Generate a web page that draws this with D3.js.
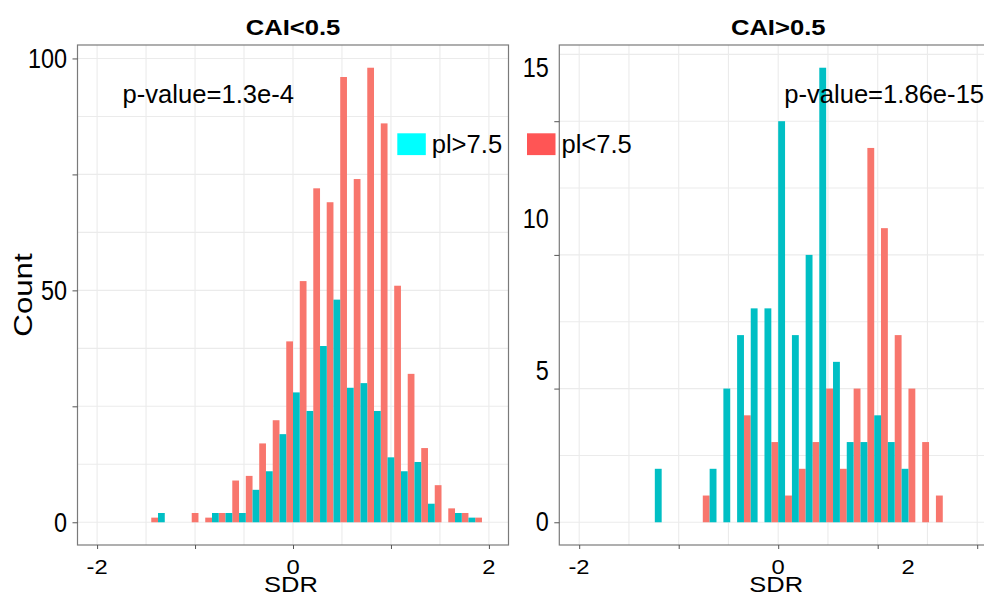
<!DOCTYPE html>
<html>
<head>
<meta charset="utf-8">
<script src="https://cdn.jsdelivr.net/npm/d3@7"></script>
<style>
  body { margin: 0; background: #fff; }
  svg text { font-family: 'Liberation Sans', Arial, sans-serif; fill: #000; }
</style>
</head>
<body>
<svg id="chart" width="984" height="596"></svg>
<script>
// histogram bin centres (SDR) shared by both panels
const sdrBins = [-1.378, -1.240, -1.102, -0.965, -0.827, -0.689, -0.551, -0.413, -0.276, -0.138,
  0, 0.138, 0.276, 0.413, 0.551, 0.689, 0.827, 0.965, 1.102, 1.240, 1.378, 1.516, 1.654, 1.791, 1.929];
const binWidth = 0.1378;

// counts, CAI<0.5
const lowCaiPlLow = [1, 0, 0, 2, 1, 2, 9, 10, 17, 22, 39, 52, 72, 69, 96, 74, 98, 86, 51, 32, 16, 8, 3, 2, 1];
const lowCaiPlHigh = [2, 0, 0, 0, 2, 2, 2, 7, 11, 19, 28, 24, 38, 48, 29, 30, 24, 14, 11, 13, 4, 0, 2, 1, 0];
// counts, CAI>0.5
const highCaiPlLow = [0, 0, 0, 0, 0, 1, 0, 0, 4, 0, 3, 1, 2, 3, 5, 2, 5, 14, 11, 7, 5, 3, 1, 0, 0];
const highCaiPlHigh = [0, 2, 0, 0, 0, 2, 5, 7, 8, 8, 15, 7, 10, 17, 6, 3, 3, 4, 3, 2, 0, 0, 0, 0, 0];

const panelTitles = ['CAI<0.5', 'CAI>0.5'];
const pValues = ['p-value=1.3e-4', 'p-value=1.86e-15'];
const groupNames = ['pl<7.5', 'pl>7.5'];
const xTicks = [-2, -1, 0, 1, 2];
const xTickLabels = ['-2', '', '0', '', '2'];
const leftYTicks = [0, 25, 50, 75, 100];
const leftYLabels = ['0', '', '50', '', '100'];
const rightYTicks = [0, 5, 10, 15];
const rightYLabels = ['0', '5', '10', '15'];

const barColors = ['#F8766D', '#00BFC4'];
const keyColors = ['#FF5555', '#00FFFF'];

const svg = d3.select('#chart');
const panelTop = 45, panelBottom = 545;

function addText(g, str, x, y, o) {
  return g.append('text')
    .attr('transform', `translate(${x},${y}) rotate(${o.rotate || 0}) scale(${o.sx || 1},${o.sy || 1})`)
    .attr('text-anchor', o.anchor || 'start')
    .style('font-size', o.size + 'px')
    .style('font-weight', o.weight || 'normal')
    .text(str);
}

function drawPanel(p) {
  const g = svg.append('g');
  const x = d3.scaleLinear().domain([-2.2, 2.2]).range([p.left, p.right]);
  const maxCount = d3.max(p.low.concat(p.high));
  const y = d3.scaleLinear().domain([-0.05 * maxCount, 1.05 * maxCount]).range([panelBottom, panelTop]);

  // grid
  g.selectAll('.hgrid').data(d3.range(0, 1.05 * maxCount, p.yStep)).join('line')
    .attr('x1', p.left).attr('x2', p.right)
    .attr('y1', d => y(d)).attr('y2', d => y(d))
    .attr('stroke', '#ebebeb').attr('stroke-width', 1.1);
  g.selectAll('.vgrid').data(d3.range(-2, 2.01, 0.5)).join('line')
    .attr('x1', d => x(d)).attr('x2', d => x(d))
    .attr('y1', panelTop).attr('y2', panelBottom)
    .attr('stroke', '#ebebeb').attr('stroke-width', 1.1);

  // dodged bars: pl<7.5 on the left half of the bin, pl>7.5 on the right
  [p.low, p.high].forEach((counts, s) => {
    const bars = sdrBins.map((c, i) => ({ c, n: counts[i] })).filter(d => d.n > 0);
    g.selectAll('.bar' + s).data(bars).join('rect')
      .attr('x', d => x(d.c - binWidth / 2 + s * binWidth / 2))
      .attr('width', d => x(d.c) - x(d.c - binWidth / 2))
      .attr('y', d => y(d.n))
      .attr('height', d => y(0) - y(d.n))
      .attr('fill', barColors[s]);
  });

  g.append('rect')
    .attr('x', p.left).attr('y', panelTop)
    .attr('width', p.right - p.left).attr('height', panelBottom - panelTop)
    .attr('fill', 'none').attr('stroke', '#7a7a7a').attr('stroke-width', 1.2);

  // tick marks
  const yAx = g.append('g').attr('transform', `translate(${p.left},0)`)
    .call(d3.axisLeft(y).tickValues(p.yTicks).tickSize(5).tickFormat(''));
  const xAx = g.append('g').attr('transform', `translate(0,${panelBottom})`)
    .call(d3.axisBottom(x).tickValues(xTicks).tickSize(4).tickFormat(''));
  [yAx, xAx].forEach(a => {
    a.select('.domain').remove();
    a.selectAll('line').attr('stroke', '#555');
  });

  // tick labels
  const yLab = p.yLabelRange ? d3.scaleLinear().domain([0, 15]).range(p.yLabelRange) : y;
  p.yTicks.forEach((t, i) => {
    if (p.yLabels[i]) addText(g, p.yLabels[i], p.left - 10.5, yLab(t) + 9.5, { size: 23.4, sy: 1.16, anchor: 'end' });
  });
  const xLab = p.xLabelRange ? d3.scaleLinear().domain([-2, 0, 2]).range(p.xLabelRange) : x;
  xTicks.forEach((t, i) => {
    if (xTickLabels[i]) addText(g, xTickLabels[i], xLab(t), 574, { size: 22, sx: 1.08, sy: 0.95, anchor: 'middle' });
  });

  const mid = x(0);
  addText(g, 'SDR', mid - 2, 591.5, { size: 25.5, sy: 0.88, anchor: 'middle' });
  addText(g, p.title, (p.left + x(2.2)) / 2, 34.5, { size: 25.6, sy: 0.87, anchor: 'middle', weight: 'bold' });
  addText(g, p.pValue, x(p.pAt), 103.3, { size: 25.6 });
}

drawPanel({
  title: panelTitles[0], pValue: pValues[0], pAt: -1.74,
  low: lowCaiPlLow, high: lowCaiPlHigh,
  left: 77.5, right: 508.5, yStep: 12.5,
  yTicks: leftYTicks, yLabels: leftYLabels
});
drawPanel({
  title: panelTitles[1], pValue: pValues[1], pAt: 0.06,
  low: highCaiPlLow, high: highCaiPlHigh,
  left: 559.3, right: 997.1, yStep: 2.5,
  yTicks: rightYTicks, yLabels: rightYLabels,
  yLabelRange: [521.5, 67], xLabelRange: [579, 778, 908]
});

addText(svg, 'Count', 31.7, 295, { size: 25.6, rotate: -90, sx: 1.22, anchor: 'middle' });

// legend sits across the gap between the panels
const legend = svg.append('g');
[[1, 397.3], [0, 527]].forEach(([s, lx]) => {
  legend.append('rect')
    .attr('x', lx).attr('y', 133.3).attr('width', 28.5).attr('height', 21.8)
    .attr('fill', keyColors[s]);
  addText(legend, groupNames[s], lx + 34.4, 152.7, { size: 25.6 });
});
</script>
</body>
</html>
